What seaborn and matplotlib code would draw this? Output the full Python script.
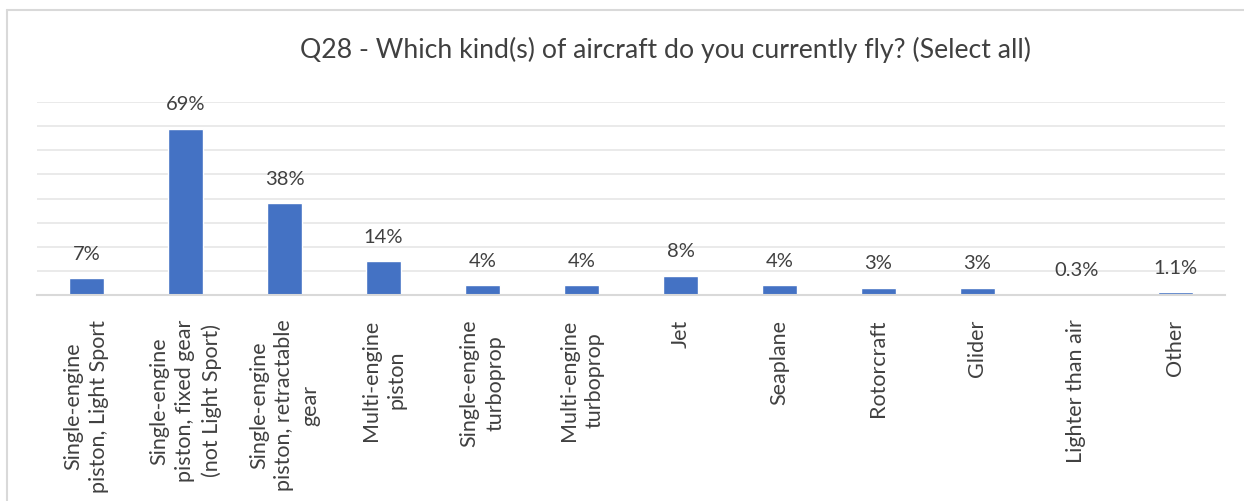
import matplotlib
matplotlib.use("Agg")
import matplotlib.pyplot as plt
import seaborn as sns
import pandas as pd
from matplotlib.lines import Line2D

categories = [
    "Single-engine\npiston, Light Sport",
    "Single-engine\npiston, fixed gear\n(not Light Sport)",
    "Single-engine\npiston, retractable\ngear",
    "Multi-engine\npiston",
    "Single-engine\nturboprop",
    "Multi-engine\nturboprop",
    "Jet",
    "Seaplane",
    "Rotorcraft",
    "Glider",
    "Lighter than air",
    "Other",
]
values = [7, 69, 38, 14, 4, 4, 8, 4, 3, 3, 0.3, 1.1]
value_labels = ["7%", "69%", "38%", "14%", "4%", "4%", "8%", "4%", "3%", "3%", "0.3%", "1.1%"]
title = "Q28 - Which kind(s) of aircraft do you currently fly? (Select all)"

sns.set_theme(style="white")
plt.rcParams['font.family'] = ['Lato', 'DejaVu Sans']
text_color = "#404040"

df = pd.DataFrame({"cat": categories, "val": values})

fig = plt.figure(figsize=(12.44, 5.02), dpi=100)
ax = fig.add_axes([37/1244, 1 - 296/502, (1225 - 37)/1244, (296 - 103)/502])

sns.barplot(data=df, x="cat", y="val", color="#4472C4", saturation=1, width=0.36, ax=ax)

ax.set_ylim(0, 80)
ax.set_xlim(-0.5, len(categories) - 0.5)
ax.set_yticks(range(0, 81, 10))
ax.yaxis.grid(True, color="#E6E6E6", linewidth=1.2)
ax.set_axisbelow(True)
ax.tick_params(axis="y", left=False, labelleft=False)
ax.tick_params(axis="x", bottom=False, pad=11)
for s in ["left", "right", "top"]:
    ax.spines[s].set_visible(False)
ax.spines["bottom"].set_color("#D9D9D9")
ax.spines["bottom"].set_linewidth(1.5)
ax.set_xlabel("")
ax.set_ylabel("")
ax.set_xticks(range(len(categories)))
ax.set_xticklabels(categories, rotation=90, ha="center", va="top", multialignment="center",
                   fontsize=15.5, color=text_color, linespacing=1.35)

for i, (v, lab) in enumerate(zip(values, value_labels)):
    ax.annotate(lab, (i, v), xytext=(0, 18), textcoords="offset points",
                ha="center", va="center", fontsize=14.5, color=text_color)

fig.text(666/1244, 1 - 50/502, title, ha="center", va="center", fontsize=19.2, color=text_color)

fig.add_artist(Line2D([7/1244, 7/1244], [0, 1 - 11/502], transform=fig.transFigure,
                      color="#D9D9D9", linewidth=1.5))
fig.add_artist(Line2D([7/1244, 1], [1 - 11/502, 1 - 11/502], transform=fig.transFigure,
                      color="#D9D9D9", linewidth=1.5))

fig.savefig("out.png", dpi=100, facecolor="white")
